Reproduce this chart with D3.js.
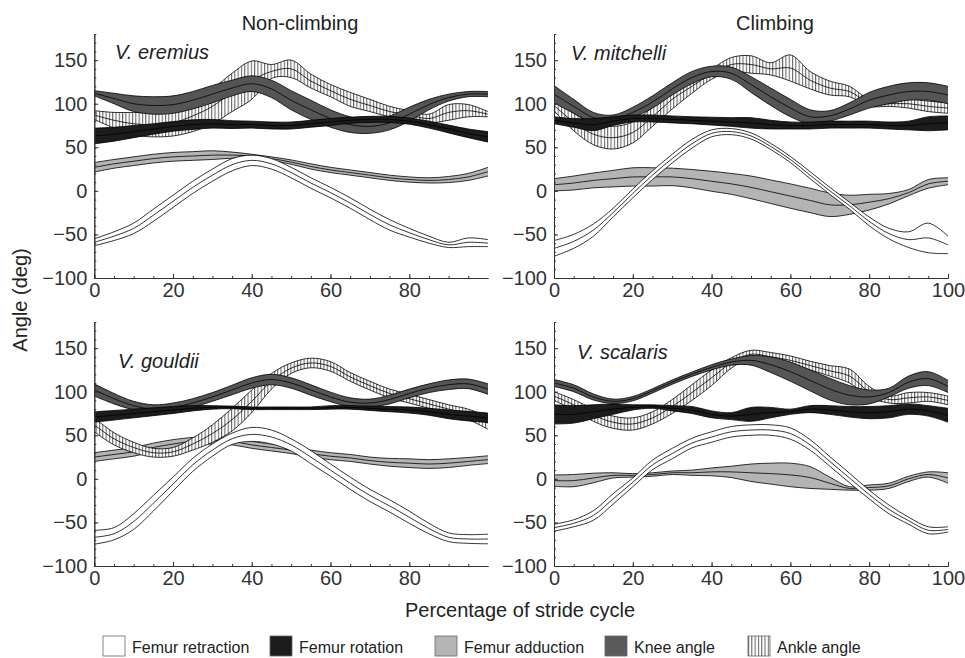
<!DOCTYPE html>
<html>
<head>
<meta charset="utf-8">
<script src="https://cdn.jsdelivr.net/npm/d3@7"></script>
<style>
body { margin: 0; background: #fff; }
text { font-family: "Liberation Sans", Arial, sans-serif; }
</style>
</head>
<body>
<div id="graph"></div>
<script>
// percentage of stride cycle where the curves were read
var pct = [0, 5, 10, 15, 20, 25, 30, 35, 40, 45, 50, 55, 60, 65, 70, 75, 80, 85, 90, 95, 100];

// V. eremius (non-climbing)
var eremiusRetractionMean = [-59, -52, -43, -28, -12, 4, 18, 30, 35, 31, 21, 9, -2, -14, -27, -39, -48, -56, -62, -59, -60];
var eremiusRetractionSd = [4, 5, 6, 7, 7, 7, 7, 7, 6, 6, 6, 6, 6, 6, 6, 6, 5, 4, 3, 5, 4];
var eremiusRotationMean = [63, 65, 68, 71, 74, 76, 77, 76, 76, 75, 75, 77, 79, 81, 82, 82, 80, 76, 71, 66, 62];
var eremiusRotationSd = [9, 8, 7, 6, 5.5, 5.5, 5, 4.5, 4, 4, 4, 4, 4, 3.5, 3.5, 3.5, 3.5, 4, 4.5, 5, 6];
var eremiusAdductionMean = [27, 31, 34, 37, 39, 40, 41, 41, 40, 37, 33, 28, 24, 21, 18, 15, 13, 12, 13, 16, 22];
var eremiusAdductionSd = [5.5, 5, 5, 5, 5, 5, 5, 3.5, 2, 2, 2.5, 3, 3, 3, 3, 3, 3, 3, 3.5, 4, 5];
var eremiusKneeMean = [112, 106, 100, 98, 99, 104, 111, 118, 123, 117, 104, 93, 83, 76, 74, 78, 88, 99, 107, 111, 111];
var eremiusKneeSd = [3, 6, 9, 10, 10, 10, 10, 9, 9, 10, 11, 11, 10, 9, 8, 8, 8, 6, 4, 3, 3];
var eremiusAnkleMean = [87, 81, 77, 76, 78, 86, 97, 113, 127, 137, 140, 126, 115, 105, 98, 91, 87, 83, 90, 92, 88];
var eremiusAnkleSd = [5, 9, 13, 14, 15, 18, 20, 22, 22, 8, 10, 8, 7, 8, 7, 6, 5, 5, 9, 7, 3];

// V. mitchelli (climbing)
var mitchelliRetractionMean = [-66, -58, -45, -25, -3, 18, 37, 54, 66, 68, 63, 51, 36, 18, 0, -17, -35, -49, -56, -54, -62];
var mitchelliRetractionSd = [9, 8, 7, 5, 5, 5, 5, 5, 4, 3.5, 3.5, 3.5, 3.5, 4, 4, 4, 5, 6, 9, 17, 10];
var mitchelliRotationMean = [81, 78, 76, 80, 83, 83, 82, 81, 80, 79, 78, 76, 75, 75, 76, 76, 76, 75, 75, 77, 78];
var mitchelliRotationSd = [4, 5, 7, 5, 4, 4, 4, 4, 4.5, 5, 6, 5, 4, 4, 4, 4, 4, 4, 5, 8, 8];
var mitchelliAdductionMean = [7, 9, 12, 14, 16, 16, 16, 14, 11, 8, 4, -1, -6, -11, -16, -16, -13, -9, -2, 8, 11];
var mitchelliAdductionSd = [7, 8, 8.5, 9.5, 10.5, 10.5, 10, 10.5, 11.5, 12, 13, 13.5, 14, 14, 13.5, 11, 9, 6, 3.5, 5, 4];
var mitchelliKneeMean = [111, 97, 84, 82, 90, 102, 117, 130, 137, 135, 122, 108, 95, 85, 86, 94, 104, 110, 114, 114, 110];
var mitchelliKneeSd = [10, 8, 6, 5, 6, 7, 7, 7, 6, 7, 9, 10, 10, 8, 6, 7, 9, 10, 10, 10, 10];
var mitchelliAnkleMean = [98, 79, 65, 61, 67, 85, 105, 120, 134, 145, 145, 140, 141, 127, 118, 114, 101, 100, 100, 97, 95];
var mitchelliAnkleSd = [6, 10, 12, 13, 12, 11, 11, 8, 6, 8, 10, 7, 15, 10, 8, 6, 4, 3, 5, 6, 6];

// V. gouldii (non-climbing)
var gouldiiRetractionMean = [-67, -63, -49, -28, -6, 16, 33, 46, 51, 48, 39, 25, 10, -5, -19, -31, -44, -57, -67, -69, -69];
var gouldiiRetractionSd = [8, 7, 9, 9, 8, 7.5, 7, 6.5, 8, 8, 7, 7.5, 7, 7, 7, 7, 7, 6, 5, 5, 5.5];
var gouldiiRotationMean = [71, 73, 75, 77, 79, 81, 82, 82, 81, 81, 81, 81, 82, 82, 81, 80, 79, 77, 74, 72, 70];
var gouldiiRotationSd = [6, 5.5, 5, 4.5, 4, 3, 2, 1.5, 1.5, 1.5, 1.5, 1.5, 2, 2, 2.5, 3, 3.5, 4, 5, 5.5, 5.5];
var gouldiiAdductionMean = [25, 28, 31, 36, 40, 43, 44, 43, 39, 36, 33, 29, 26, 24, 21, 19, 18, 17, 18, 20, 22];
var gouldiiAdductionSd = [5, 5, 5, 5, 5, 4.5, 4, 4, 4, 4, 4, 4, 4, 4, 4, 4.5, 5, 5, 5, 4.5, 4.5];
var gouldiiKneeMean = [102, 92, 84, 80, 82, 87, 94, 102, 110, 114, 110, 102, 94, 88, 87, 91, 98, 104, 108, 109, 103];
var gouldiiKneeSd = [7, 6, 5, 5, 5, 5, 5, 5.5, 6, 6, 6, 6, 5.5, 5, 4.5, 5, 5, 5, 5.5, 5.5, 6];
var gouldiiAnkleMean = [62, 46, 36, 30, 31, 40, 52, 68, 89, 112, 127, 133, 129, 117, 107, 98, 92, 86, 80, 74, 64];
var gouldiiAnkleSd = [8, 7, 6, 5, 5, 7, 10, 13, 13, 9, 6, 5.5, 5.5, 5, 5, 5, 5, 5, 5, 6, 7];

// V. scalaris (climbing)
var scalarisRetractionMean = [-56, -51, -42, -23, -4, 16, 29, 41, 48, 54, 56, 56, 52, 39, 20, 1, -18, -35, -48, -59, -58];
var scalarisRetractionSd = [4, 4, 5.5, 6, 5, 5.5, 6, 5.5, 6, 6, 6, 6, 6.5, 6, 5.5, 5.5, 5, 5, 4, 4, 3];
var scalarisRotationMean = [74, 74, 77, 80, 82, 83, 81, 79, 74, 72, 74, 76, 77, 80, 79, 77, 76, 77, 80, 78, 73];
var scalarisRotationSd = [11, 10, 8, 6, 3, 2, 3, 4, 4, 4, 8, 6, 3, 4, 5, 6, 7, 7, 6, 6, 8];
var scalarisAdductionMean = [-2, -2, 1, 4, 4, 5, 7, 7, 8, 8, 7, 6, 4.5, 1.5, -5, -11, -10, -8, 0, 5, 1];
var scalarisAdductionSd = [6.5, 7, 5.5, 3, 2, 2, 2, 3, 4.5, 6.5, 10, 12, 13.5, 12.5, 7, 2, 3, 3, 3, 3, 6];
var scalarisKneeMean = [110, 104, 94, 89, 92, 101, 111, 120, 128, 134, 136, 131, 123, 113, 103, 96, 94, 99, 111, 115, 106];
var scalarisKneeSd = [4, 4, 3.5, 2.5, 2.5, 2.5, 2.5, 2.5, 3, 3.5, 5.5, 9, 11, 12, 12.5, 11, 8, 5, 7, 8, 7];
var scalarisAnkleMean = [95, 85, 73, 65, 63, 70, 83, 99, 116, 133, 143, 140, 136, 130, 124, 118, 100, 91, 93, 94, 90];
var scalarisAnkleSd = [5, 6, 7, 7, 7, 7, 8, 9, 9, 6, 4.5, 5, 5, 5, 6, 8, 6, 4, 6, 5, 5];

// tick labels
var yTicks = [-100, -50, 0, 50, 100, 150];
var xTicksLeft = [0, 20, 40, 60, 80];
var xTicksRight = [0, 20, 40, 60, 80, 100];
var legendNames = ['Femur retraction', 'Femur rotation', 'Femur adduction', 'Knee angle', 'Ankle angle'];

// global variables
var chart_width = 965;
var chart_height = 658;

// drawing order and fills of the bands
var bandStyles = [
  { key: 'adduction', fill: '#b4b4b4' },
  { key: 'retraction', fill: '#ffffff' },
  { key: 'ankle', fill: 'url(#hatch)' },
  { key: 'knee', fill: '#555555' },
  { key: 'rotation', fill: '#1c1c1c' }
];

var legendFills = ['#ffffff', '#1c1c1c', '#b4b4b4', '#5a5a5a', 'url(#hatch)'];
var legendX = [103, 270, 435, 605, 748];

var panels = [
  { name: 'V. eremius', left: 94.3, right: 488, bottom: 278, top: 34, xTicks: xTicksLeft, labelX: 115, labelY: 59,
    data: { retraction: [eremiusRetractionMean, eremiusRetractionSd], rotation: [eremiusRotationMean, eremiusRotationSd],
      adduction: [eremiusAdductionMean, eremiusAdductionSd], knee: [eremiusKneeMean, eremiusKneeSd], ankle: [eremiusAnkleMean, eremiusAnkleSd] } },
  { name: 'V. mitchelli', left: 554, right: 948, bottom: 278, top: 34, xTicks: xTicksRight, labelX: 571, labelY: 60,
    data: { retraction: [mitchelliRetractionMean, mitchelliRetractionSd], rotation: [mitchelliRotationMean, mitchelliRotationSd],
      adduction: [mitchelliAdductionMean, mitchelliAdductionSd], knee: [mitchelliKneeMean, mitchelliKneeSd], ankle: [mitchelliAnkleMean, mitchelliAnkleSd] } },
  { name: 'V. gouldii', left: 94.3, right: 488, bottom: 566, top: 322, xTicks: xTicksLeft, labelX: 118, labelY: 368,
    data: { retraction: [gouldiiRetractionMean, gouldiiRetractionSd], rotation: [gouldiiRotationMean, gouldiiRotationSd],
      adduction: [gouldiiAdductionMean, gouldiiAdductionSd], knee: [gouldiiKneeMean, gouldiiKneeSd], ankle: [gouldiiAnkleMean, gouldiiAnkleSd] } },
  { name: 'V. scalaris', left: 554, right: 948, bottom: 566, top: 322, xTicks: xTicksRight, labelX: 577, labelY: 359,
    data: { retraction: [scalarisRetractionMean, scalarisRetractionSd], rotation: [scalarisRotationMean, scalarisRotationSd],
      adduction: [scalarisAdductionMean, scalarisAdductionSd], knee: [scalarisKneeMean, scalarisKneeSd], ankle: [scalarisAnkleMean, scalarisAnkleSd] } }
];

var svg = d3
  .select('#graph')
  .append('svg')
  .attr('width', chart_width)
  .attr('height', chart_height);

// vertical hatching for the ankle angle
var pattern = svg.append('defs')
  .append('pattern')
  .attr('id', 'hatch')
  .attr('patternUnits', 'userSpaceOnUse')
  .attr('width', 3.3)
  .attr('height', 10);
pattern.append('rect').attr('width', 3.3).attr('height', 10).attr('fill', '#fff');
pattern.append('line')
  .attr('x1', 0.6).attr('x2', 0.6).attr('y1', 0).attr('y2', 10)
  .attr('stroke', '#000').attr('stroke-width', 0.7);

panels.forEach(function(panel) {
  var x_scale = d3.scaleLinear().domain([0, 100]).range([panel.left, panel.right]);
  var y_scale = d3.scaleLinear().domain([-100, 180]).range([panel.bottom, panel.top]);

  var g = svg.append('g');

  bandStyles.forEach(function(style) {
    var mean = panel.data[style.key][0];
    var sd = panel.data[style.key][1];
    var rows = pct.map(function(p, i) {
      return { p: p, m: mean[i], s: sd[i] };
    });

    var area = d3.area()
      .curve(d3.curveCatmullRom)
      .x(function(d) { return x_scale(d.p); })
      .y0(function(d) { return y_scale(d.m - d.s); })
      .y1(function(d) { return y_scale(d.m + d.s); });

    var lineAt = function(k) {
      return d3.line()
        .curve(d3.curveCatmullRom)
        .x(function(d) { return x_scale(d.p); })
        .y(function(d) { return y_scale(d.m + k * d.s); });
    };

    g.append('path')
      .attr('d', area(rows))
      .attr('fill', style.fill)
      .attr('stroke', 'none');

    [-1, 0, 1].forEach(function(k) {
      g.append('path')
        .attr('d', lineAt(k)(rows))
        .attr('fill', 'none')
        .attr('stroke', '#000')
        .attr('stroke-width', 0.8);
    });
  });

  // axes, ticks pointing inwards
  var y_axis = d3.axisLeft(y_scale).tickValues(yTicks).tickSize(-4).tickSizeOuter(0).tickPadding(7);
  var y_minor = d3.axisLeft(y_scale).tickValues(d3.range(-100, 181, 10)).tickSize(-2).tickSizeOuter(0).tickFormat('');
  var x_axis = d3.axisBottom(x_scale).tickValues(panel.xTicks).tickSize(-4).tickSizeOuter(0).tickPadding(5);
  var x_minor = d3.axisBottom(x_scale).tickValues(d3.range(0, 100, 5)).tickSize(-2).tickSizeOuter(0).tickFormat('');

  [y_minor, y_axis].forEach(function(ax) {
    g.append('g')
      .attr('transform', 'translate(' + panel.left + ',0)')
      .style('color', '#333')
      .call(ax)
      .attr('font-size', 20)
      .attr('font-family', '"Liberation Sans", Arial, sans-serif');
  });

  [x_minor, x_axis].forEach(function(ax) {
    g.append('g')
      .attr('transform', 'translate(0,' + panel.bottom + ')')
      .style('color', '#333')
      .call(ax)
      .attr('font-size', 20)
      .attr('font-family', '"Liberation Sans", Arial, sans-serif');
  });

  g.append('text')
    .attr('x', panel.labelX)
    .attr('y', panel.labelY)
    .attr('font-size', 20)
    .attr('font-style', 'italic')
    .attr('fill', '#222')
    .text(panel.name);
});

// titles
svg.append('text').attr('x', 300).attr('y', 30).attr('text-anchor', 'middle')
  .attr('font-size', 20).attr('fill', '#222').text('Non-climbing');
svg.append('text').attr('x', 775).attr('y', 30).attr('text-anchor', 'middle')
  .attr('font-size', 20).attr('fill', '#222').text('Climbing');
svg.append('text').attr('transform', 'translate(27,300) rotate(-90)').attr('text-anchor', 'middle')
  .attr('font-size', 20).attr('fill', '#222').text('Angle (deg)');
svg.append('text').attr('x', 520).attr('y', 617).attr('text-anchor', 'middle')
  .attr('font-size', 20).attr('fill', '#222').text('Percentage of stride cycle');

// legend
var legend = svg.selectAll('.legend')
  .data(legendNames)
  .enter()
  .append('g')
  .attr('class', 'legend')
  .attr('transform', function(d, i) {
    return 'translate(' + legendX[i] + ',636)';
  });

legend.append('rect')
  .attr('width', 22)
  .attr('height', 20)
  .attr('fill', function(d, i) { return legendFills[i]; })
  .attr('stroke', '#666')
  .attr('stroke-width', 0.8);

legend.append('text')
  .attr('x', 29)
  .attr('y', 16.5)
  .attr('font-size', 16)
  .attr('fill', '#222')
  .text(function(d) { return d; });
</script>
</body>
</html>
